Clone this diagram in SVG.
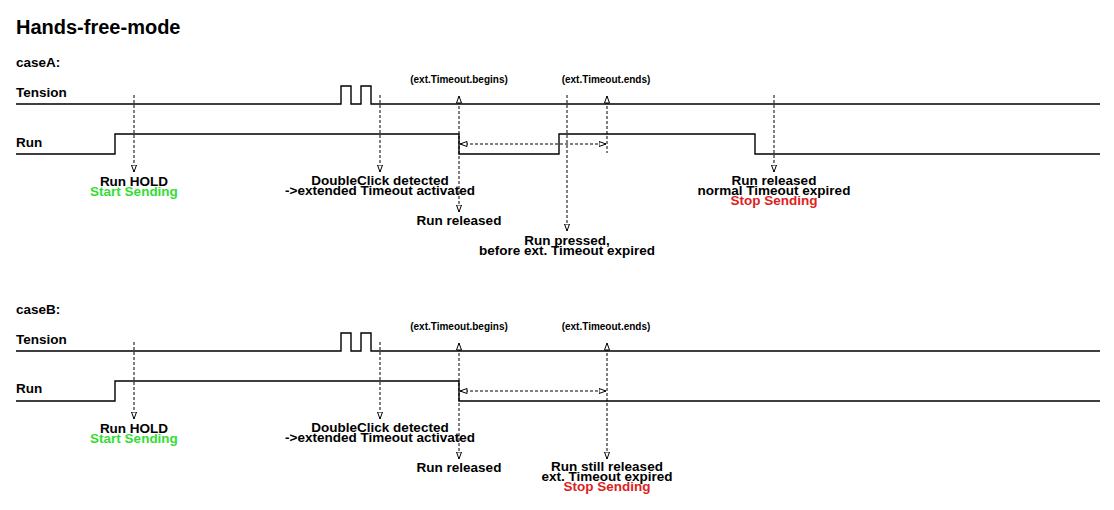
<svg xmlns="http://www.w3.org/2000/svg" width="1114" height="510" viewBox="0 0 1114 510">
<style>
text{font-family:"Liberation Sans",Arial,sans-serif;font-weight:bold;fill:#000}
.title{font-size:20px}
.lbl{font-size:13.5px}
.c{font-size:13.5px;text-anchor:middle}
.s{font-size:10px;text-anchor:middle}
.g{fill:#33dd33}
.r{fill:#dd2222}
.sig{fill:none;stroke:#000;stroke-width:1.4}
.d{fill:none;stroke:#000;stroke-width:1;stroke-dasharray:3,2}
</style>
<defs>
<marker id="ah" viewBox="0 0 8 6" refX="7.5" refY="3" markerWidth="8" markerHeight="6" markerUnits="userSpaceOnUse" orient="auto-start-reverse">
<path d="M0.5,0.5 L7.5,3 L0.5,5.5 Z" fill="#fff" stroke="#000" stroke-width="1"/>
</marker>
</defs>
<rect width="1114" height="510" fill="#fff"/>
<text class="title" x="16" y="34">Hands-free-mode</text>

<g id="caseA">
<text class="lbl" x="16" y="67">caseA:</text>
<g id="tensionA"><text class="lbl" x="16" y="97">Tension</text>
<path class="sig" d="M16,104 H341 V86 H351 V104 H361 V86 H371 V104 H1100"/></g>
<g id="runA"><text class="lbl" x="16" y="147">Run</text>
<path class="sig" d="M16,154 H115 V134 H459 V154 H559 V134 H755 V154 H1100"/></g>
<g id="labelsA">
<text class="s" x="459" y="83">(ext.Timeout.begins)</text>
<text class="s" x="606" y="83">(ext.Timeout.ends)</text>
<text class="c" x="134" y="186">Run HOLD</text>
<text class="c g" x="134" y="196">Start Sending</text>
<text class="c" x="380" y="185">DoubleClick detected</text>
<text class="c" x="380" y="195">-&gt;extended Timeout activated</text>
<text class="c" x="459" y="225">Run released</text>
<text class="c" x="567" y="245">Run pressed,</text>
<text class="c" x="567" y="255">before ext. Timeout expired</text>
<text class="c" x="774" y="185">Run released</text>
<text class="c" x="774" y="195">normal Timeout expired</text>
<text class="c r" x="774" y="205">Stop Sending</text>
</g>
</g>

<g id="caseB">
<text class="lbl" x="16" y="314">caseB:</text>
<g id="tensionB"><text class="lbl" x="16" y="344">Tension</text>
<path class="sig" d="M16,351 H341 V333 H351 V351 H361 V333 H371 V351 H1100"/></g>
<g id="runB"><text class="lbl" x="16" y="393">Run</text>
<path class="sig" d="M16,401 H115 V381 H459 V401 H1100"/></g>
<g id="labelsB">
<text class="s" x="459" y="330">(ext.Timeout.begins)</text>
<text class="s" x="606" y="330">(ext.Timeout.ends)</text>
<text class="c" x="134" y="433">Run HOLD</text>
<text class="c g" x="134" y="443">Start Sending</text>
<text class="c" x="380" y="432">DoubleClick detected</text>
<text class="c" x="380" y="442">-&gt;extended Timeout activated</text>
<text class="c" x="459" y="472">Run released</text>
<text class="c" x="607" y="471">Run still released</text>
<text class="c" x="607" y="481">ext. Timeout expired</text>
<text class="c r" x="607" y="491">Stop Sending</text>
</g>
</g>

<g id="connectors">
<path class="d" d="M134,95 V172" marker-end="url(#ah)"/>
<path class="d" d="M380,95 V172" marker-end="url(#ah)"/>
<path class="d" d="M459,96 V212" marker-start="url(#ah)" marker-end="url(#ah)"/>
<path class="d" d="M567,95 V231" marker-end="url(#ah)"/>
<path class="d" d="M607,96 V153" marker-start="url(#ah)"/>
<path class="d" d="M774,95 V172" marker-end="url(#ah)"/>
<path class="d" d="M460,144 H606" marker-start="url(#ah)" marker-end="url(#ah)"/>

<path class="d" d="M134,342 V419" marker-end="url(#ah)"/>
<path class="d" d="M380,342 V419" marker-end="url(#ah)"/>
<path class="d" d="M459,343 V459" marker-start="url(#ah)" marker-end="url(#ah)"/>
<path class="d" d="M607,343 V459" marker-start="url(#ah)" marker-end="url(#ah)"/>
<path class="d" d="M460,391 H606" marker-start="url(#ah)" marker-end="url(#ah)"/>
</g>
</svg>
